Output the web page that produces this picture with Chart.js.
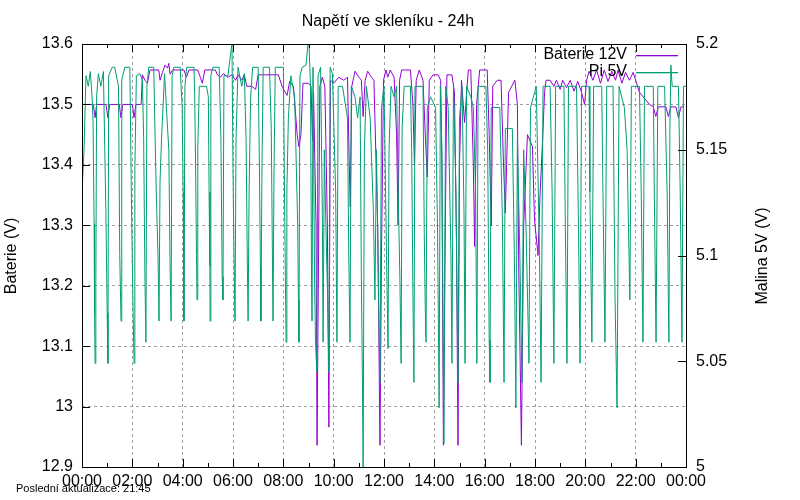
<!DOCTYPE html>
<html>
<head>
<meta charset="utf-8">
<script src="https://cdn.jsdelivr.net/npm/chart.js@4"></script>
<style>body{margin:0;background:#fff}</style>
</head>
<body>
<canvas id="graf" width="800" height="500"></canvas>
<script>
// nazvy serii
const seriesNames = ['Baterie 12V', 'Pi 5V'];
const seriesColors = ['#9400d3', '#009e73'];

// Baterie 12V - cas (hodiny) a napeti (V), leva osa
const batTime = [0.00,0.45,0.52,0.58,0.95,1.03,1.10,1.48,1.55,1.62,2.00,2.07,2.14,2.35,2.40,2.50,2.60,2.70,3.05,3.10,
  3.20,3.30,3.40,3.45,3.50,3.60,4.05,4.15,4.25,4.60,4.70,4.78,4.88,5.30,5.38,5.50,5.62,5.80,5.95,6.10,
  6.20,6.35,6.45,6.55,6.75,6.90,7.00,7.80,7.95,8.05,8.15,8.25,8.40,8.55,8.62,8.70,8.78,9.00,9.10,9.16,
  9.20,9.30,9.34,9.38,9.45,9.55,9.65,9.75,9.81,9.87,10.00,10.20,10.40,10.55,10.62,10.66,10.72,10.85,11.00,11.10,
  11.17,11.25,11.35,11.50,11.60,11.75,11.84,11.90,11.98,12.08,12.15,12.25,12.40,12.50,12.56,12.62,12.70,13.05,13.15,13.21,
  13.28,13.40,13.55,13.65,13.72,13.80,13.95,14.15,14.25,14.30,14.36,14.42,14.50,14.70,14.80,14.88,14.94,15.00,15.08,15.15,
  15.20,15.35,15.45,15.55,15.60,15.68,15.80,16.10,16.18,16.26,16.32,16.50,16.65,16.75,16.82,16.95,17.20,17.30,17.35,17.46,
  17.55,17.70,17.90,17.98,18.12,18.20,18.30,18.38,18.44,18.60,18.75,18.85,19.00,19.10,19.25,19.40,19.55,19.70,19.85,19.97,
  20.05,20.15,20.30,20.45,20.60,20.75,20.90,21.05,21.20,21.30,21.45,21.60,21.75,21.90,22.00,22.15,22.35,22.55,22.70,22.80,
  22.90,23.20,23.30,23.40,23.60,23.70,23.80,23.92];
const batVolt = [13.500,13.500,13.478,13.500,13.500,13.478,13.500,13.500,13.478,13.500,13.500,13.478,13.500,13.500,13.549,13.540,13.535,13.557,13.557,13.540,
  13.553,13.565,13.560,13.568,13.550,13.557,13.557,13.545,13.557,13.557,13.545,13.535,13.557,13.557,13.549,13.545,13.551,13.545,13.549,13.540,
  13.549,13.540,13.549,13.530,13.530,13.525,13.549,13.549,13.530,13.522,13.515,13.538,13.530,13.450,13.430,13.450,13.535,13.535,13.530,13.440,
  13.520,13.300,12.936,13.150,13.530,13.545,13.530,13.300,12.966,13.540,13.535,13.545,13.540,13.545,13.400,13.330,13.530,13.555,13.545,13.540,
  13.480,13.540,13.555,13.545,13.540,13.300,12.936,13.250,13.540,13.557,13.545,13.557,13.545,13.450,13.300,13.540,13.557,13.557,13.500,13.400,
  13.540,13.557,13.540,13.440,13.380,13.540,13.549,13.549,13.540,13.400,12.936,13.230,13.549,13.549,13.520,13.270,12.936,13.400,13.540,13.500,
  13.470,13.557,13.557,13.400,13.265,13.500,13.557,13.557,13.450,13.300,13.530,13.540,13.540,13.400,13.320,13.520,13.540,13.500,13.240,12.936,
  13.300,13.450,13.430,13.310,13.250,13.350,13.440,13.520,13.540,13.540,13.530,13.540,13.525,13.540,13.528,13.540,13.522,13.538,13.520,13.500,
  13.540,13.555,13.540,13.557,13.535,13.557,13.538,13.555,13.540,13.557,13.535,13.553,13.540,13.553,13.540,13.520,13.510,13.500,13.496,13.480,
  13.496,13.496,13.480,13.496,13.496,13.478,13.496,13.496];

// Pi 5V - cas (hodiny) a napeti (V), prava osa
const piTime = [0.00,0.08,0.16,0.25,0.33,0.40,0.44,0.48,0.50,0.52,0.55,0.58,0.65,0.75,0.85,0.95,1.00,1.03,1.06,1.20,
  1.30,1.45,1.50,1.55,1.58,1.70,1.90,1.97,2.03,2.07,2.10,2.16,2.30,2.40,2.45,2.50,2.54,2.58,2.65,2.85,
  2.95,3.02,3.06,3.10,3.16,3.28,3.40,3.45,3.50,3.54,3.58,3.65,3.90,3.98,4.02,4.05,4.09,4.16,4.45,4.48,
  4.52,4.55,4.57,4.60,4.66,4.95,5.02,5.05,5.08,5.09,5.12,5.20,5.45,5.52,5.57,5.60,5.64,5.80,5.90,5.96,
  6.00,6.04,6.08,6.12,6.20,6.35,6.45,6.52,6.57,6.60,6.64,6.70,6.78,7.00,7.05,7.09,7.11,7.15,7.20,7.45,
  7.52,7.57,7.59,7.63,7.68,8.00,8.05,8.09,8.11,8.14,8.20,8.30,8.45,8.52,8.57,8.60,8.62,8.66,8.75,8.90,
  8.98,9.02,9.08,9.12,9.14,9.18,9.24,9.28,9.33,9.38,9.48,9.55,9.58,9.63,9.68,9.76,9.81,9.86,9.95,10.08,
  10.13,10.18,10.35,10.55,10.60,10.65,10.70,10.85,10.95,11.05,11.10,11.14,11.17,11.22,11.30,11.45,11.58,11.64,11.70,11.80,
  11.84,11.90,12.00,12.10,12.16,12.20,12.28,12.40,12.50,12.58,12.63,12.68,12.72,12.80,13.05,13.10,13.15,13.19,13.23,13.55,
  13.60,13.64,13.67,13.72,13.85,14.05,14.13,14.19,14.24,14.30,14.38,14.45,14.55,14.66,14.70,14.76,14.86,14.94,15.00,15.10,
  15.18,15.22,15.28,15.45,15.55,15.64,15.69,15.74,16.05,16.12,16.18,16.21,16.26,16.60,16.70,16.77,16.82,17.10,17.18,17.24,
  17.30,17.40,17.48,17.55,17.65,17.76,17.82,18.05,18.18,18.24,18.32,18.60,18.68,18.75,18.82,19.15,19.20,19.27,19.33,19.65,
  19.72,19.79,19.85,20.15,20.18,20.26,20.33,20.65,20.70,20.78,20.85,21.10,21.18,21.26,21.34,21.55,21.66,21.72,21.77,21.83,
  22.15,22.22,22.29,22.35,22.70,22.74,22.81,22.88,23.15,23.25,23.32,23.36,23.40,23.45,23.70,23.77,23.84,23.90,24.00];
const piVolt = [5.130,5.150,5.185,5.180,5.187,5.175,5.163,5.115,5.072,5.049,5.085,5.175,5.186,5.180,5.187,5.120,5.073,5.049,5.185,5.189,
  5.189,5.180,5.100,5.069,5.183,5.189,5.189,5.120,5.073,5.049,5.140,5.185,5.186,5.183,5.155,5.090,5.059,5.180,5.189,5.189,
  5.130,5.100,5.069,5.135,5.155,5.186,5.160,5.150,5.095,5.069,5.185,5.189,5.189,5.170,5.130,5.069,5.180,5.189,5.189,5.175,
  5.135,5.100,5.079,5.150,5.180,5.180,5.175,5.130,5.095,5.069,5.185,5.189,5.189,5.155,5.090,5.079,5.185,5.185,5.195,5.200,
  5.140,5.100,5.069,5.155,5.189,5.180,5.186,5.155,5.095,5.069,5.130,5.175,5.189,5.189,5.140,5.095,5.069,5.140,5.189,5.189,
  5.160,5.095,5.069,5.140,5.189,5.189,5.125,5.080,5.059,5.130,5.165,5.185,5.175,5.140,5.115,5.079,5.059,5.185,5.189,5.190,
  5.200,5.200,5.180,5.090,5.069,5.189,5.090,5.059,5.045,5.185,5.189,5.120,5.059,5.150,5.120,5.079,5.045,5.189,5.186,5.130,
  5.059,5.180,5.180,5.165,5.100,5.059,5.180,5.175,5.165,5.175,5.090,5.045,5.000,5.150,5.180,5.165,5.120,5.079,5.150,5.070,
  5.040,5.170,5.180,5.100,5.056,5.150,5.180,5.175,5.180,5.120,5.090,5.049,5.160,5.180,5.180,5.150,5.080,5.040,5.180,5.180,
  5.110,5.075,5.059,5.170,5.175,5.170,5.110,5.028,5.180,5.150,5.011,5.180,5.170,5.100,5.049,5.180,5.130,5.040,5.165,5.180,
  5.120,5.049,5.180,5.175,5.170,5.130,5.049,5.180,5.180,5.150,5.060,5.040,5.170,5.170,5.120,5.040,5.160,5.160,5.100,5.028,
  5.155,5.100,5.040,5.150,5.110,5.049,5.170,5.180,5.100,5.040,5.180,5.180,5.130,5.049,5.180,5.180,5.120,5.049,5.180,5.180,
  5.120,5.049,5.180,5.180,5.130,5.059,5.180,5.180,5.130,5.059,5.180,5.180,5.080,5.028,5.180,5.170,5.150,5.110,5.079,5.180,
  5.180,5.130,5.059,5.180,5.180,5.130,5.059,5.180,5.180,5.130,5.059,5.160,5.190,5.180,5.180,5.130,5.059,5.180,5.180];

// rozsahy os
const leftRange = [12.9, 13.6];
const rightRange = [5.0, 5.2];
const hourRange = [0, 24];

const font = '"Liberation Sans", Arial, sans-serif';

// ramecek, ticky dovnitr, titulky a legenda jako v gnuplotu
const gnuplotLook = {
  id: 'gnuplotLook',
  afterDraw(chart) {
    const ctx = chart.ctx;
    const a = chart.chartArea;
    const sx = chart.scales.x, sy = chart.scales.y, sy2 = chart.scales.y2;
    ctx.save();
    ctx.strokeStyle = '#000';
    ctx.lineWidth = 1;
    ctx.beginPath();
    for (let h = hourRange[0]; h <= hourRange[1]; h++) {
      const px = Math.round(sx.getPixelForValue(h)) + 0.5;
      const len = h % 2 ? 4 : 8;
      ctx.moveTo(px, a.bottom); ctx.lineTo(px, a.bottom - len);
      ctx.moveTo(px, a.top); ctx.lineTo(px, a.top + len);
    }
    sy.ticks.forEach(t => {
      const py = Math.round(sy.getPixelForValue(t.value)) + 0.5;
      ctx.moveTo(a.left, py); ctx.lineTo(a.left + 8, py);
    });
    sy2.ticks.forEach(t => {
      const py = Math.round(sy2.getPixelForValue(t.value)) + 0.5;
      ctx.moveTo(a.right, py); ctx.lineTo(a.right - 8, py);
    });
    ctx.stroke();
    ctx.strokeRect(Math.round(a.left) + 0.5, Math.round(a.top) + 0.5,
      Math.round(a.right - a.left), Math.round(a.bottom - a.top));

    ctx.fillStyle = '#000';
    ctx.font = '16px ' + font;
    ctx.textBaseline = 'middle';
    ctx.textAlign = 'center';
    ctx.fillText('Napětí ve skleníku - 24h', 388, 22);

    ctx.save();
    ctx.translate(12, 256);
    ctx.rotate(-Math.PI / 2);
    ctx.fillText('Baterie (V)', 0, 0);
    ctx.restore();

    ctx.save();
    ctx.translate(763, 256);
    ctx.rotate(-Math.PI / 2);
    ctx.fillText('Malina 5V (V)', 0, 0);
    ctx.restore();

    // legenda
    ctx.textAlign = 'right';
    seriesNames.forEach((name, i) => {
      const y = 55 + i * 17;
      ctx.fillStyle = '#000';
      ctx.fillText(name, 627, y);
      ctx.fillStyle = seriesColors[i];
      ctx.fillRect(636, y, 42, 1.3);
    });

    ctx.textAlign = 'left';
    ctx.fillStyle = '#000';
    ctx.font = '11px ' + font;
    ctx.fillText('Poslední aktualizace: 21:45', 16, 489);
    ctx.restore();
  }
};

const ctx = document.getElementById('graf').getContext('2d');
new Chart(ctx, {
  type: 'line',
  data: {
    datasets: [
      {
        label: seriesNames[0],
        data: batTime.map((t, i) => ({ x: t, y: batVolt[i] })),
        borderColor: seriesColors[0],
        borderWidth: 1,
        pointRadius: 0,
        yAxisID: 'y',
        order: 1
      },
      {
        label: seriesNames[1],
        data: piTime.map((t, i) => ({ x: t, y: piVolt[i] })),
        borderColor: seriesColors[1],
        borderWidth: 1,
        pointRadius: 0,
        yAxisID: 'y2',
        order: 0
      }
    ]
  },
  options: {
    responsive: false,
    animation: false,
    layout: { padding: { top: 44, left: 0, right: 0, bottom: 0 } },
    plugins: { legend: { display: false }, title: { display: false }, tooltip: { enabled: false } },
    scales: {
      x: {
        type: 'linear',
        min: hourRange[0], max: hourRange[1],
        afterFit: s => { s.height = 33; },
        ticks: {
          stepSize: 2,
          color: '#000',
          font: { family: font, size: 16 },
          padding: 5,
          maxRotation: 0,
          callback: v => String(v % 24).padStart(2, '0') + ':00'
        },
        grid: { color: '#a0a0a0', lineWidth: 1, drawTicks: false },
        border: { display: false, dash: [3, 3] }
      },
      y: {
        position: 'left',
        min: leftRange[0], max: leftRange[1],
        afterFit: s => { s.width = 82; },
        ticks: {
          stepSize: 0.1,
          color: '#000',
          font: { family: font, size: 16 },
          padding: 9,
          callback: v => String(Math.round(v * 10) / 10)
        },
        grid: { color: '#a0a0a0', lineWidth: 1, drawTicks: false },
        border: { display: false, dash: [3, 3] }
      },
      y2: {
        position: 'right',
        min: rightRange[0], max: rightRange[1],
        afterFit: s => { s.width = 114; },
        ticks: {
          stepSize: 0.05,
          color: '#000',
          font: { family: font, size: 16 },
          padding: 10,
          callback: v => String(Math.round(v * 100) / 100)
        },
        grid: { display: false, drawTicks: false },
        border: { display: false }
      }
    }
  },
  plugins: [gnuplotLook]
});
</script>
</body>
</html>
